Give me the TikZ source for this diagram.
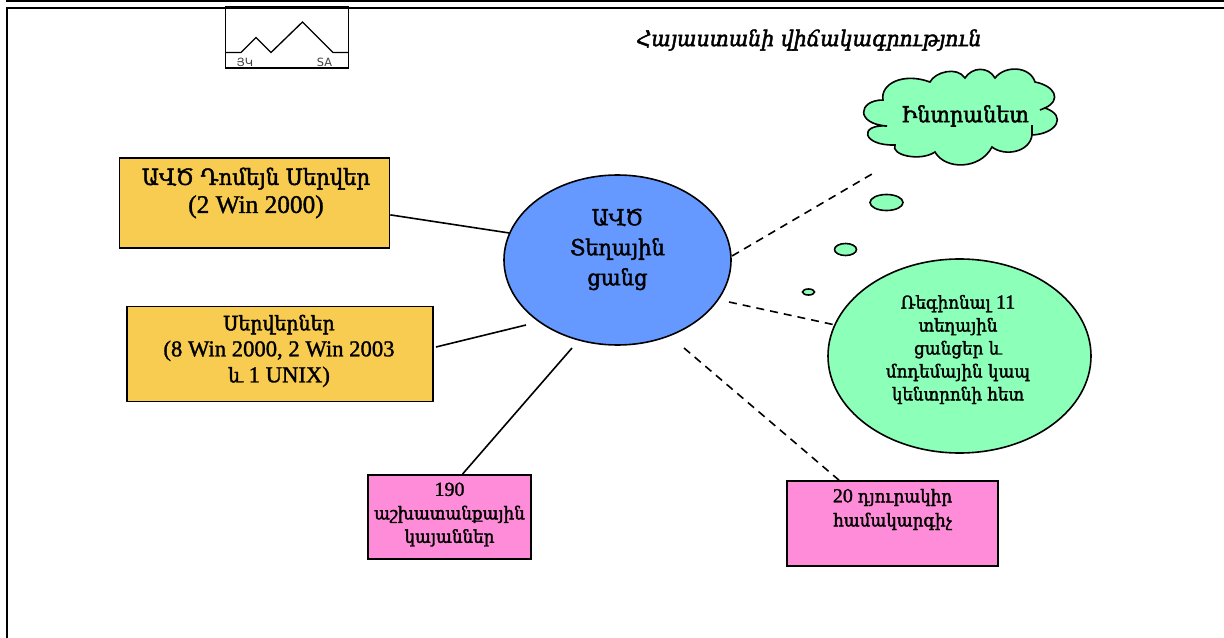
\documentclass[tikz,border=0pt]{standalone}
\usepackage{fontspec}
\setmainfont{Liberation Serif}[FakeBold=1.3]
\newfontfamily\arm{DejaVu Serif}[Scale=0.88,FakeStretch=0.95,FakeBold=2]
\newfontfamily\armsans{DejaVu Sans}
\definecolor{boxgold}{HTML}{F7CC50}
\definecolor{boxpink}{HTML}{FF8CD9}
\definecolor{blob}{HTML}{8CFFB8}
\definecolor{hub}{HTML}{6699FF}
\usetikzlibrary{shapes.geometric}
\tikzset{
  x=0.75pt,y=-0.75pt,
  rectbox/.style={draw=black,line width=1.25pt,rectangle,inner sep=0pt},
  oval/.style={draw=black,line width=1.2pt,ellipse,inner sep=0pt},
  link/.style={line width=1.2pt,black},
  dlink/.style={line width=1.2pt,black,dash pattern=on 6pt off 4.5pt},
  frameline/.style={line width=1.6pt,black},
  txt/.style={inner sep=0pt,align=center}
}
\begin{document}
\begin{tikzpicture}
\useasboundingbox (0,0) rectangle (1224,638);
% frame
\coordinate (ftl) at (6,1); \coordinate (ftr) at (1224,1);
\coordinate (gtl) at (7,8); \coordinate (gtr) at (1224,8); \coordinate (gbl) at (7,638);
\draw[frameline] (ftl) -- (ftr);
\draw[frameline] (gtr) -- (gtl) -- (gbl);
% logo
\node[draw=black,line width=1pt,minimum width=123.5*0.75pt,minimum height=61*0.75pt,inner sep=0pt] (logo) at (287,37.5) {};
\draw[line width=1pt] (225.5,52.5) -- (241,52.5) -- (256,37.5) -- (271,52.5) -- (302.5,22) -- (333,52.5) -- (348.5,52.5);
\node[txt,font=\armsans\fontsize{8.5pt}{9pt}\selectfont,text=black!75] (lhy) at (245,62) {ՅԿ};
\node[txt,font=\armsans\fontsize{8.5pt}{9pt}\selectfont,text=black!75] (lsa) at (324.5,62) {SA};
% title
\node[txt,font=\arm\itshape\fontsize{18.4pt}{22pt}\selectfont] (title) at (809,40) {Հայաստանի վիճակագրություն};
% hub
\node[oval,fill=hub,minimum width=227*0.75pt,minimum height=170*0.75pt] (hubn) at (617.5,260) {};
\node[txt,font=\arm\fontsize{18.8pt}{22.5pt}\selectfont] (hubt) at (617.5,249.5) {ԱՎԾ\\Տեղային\\ցանց};
% boxes
\node[rectbox,fill=boxgold,minimum width=270*0.75pt,minimum height=89.5*0.75pt] (dom) at (254.5,203) {};
\node[txt,font=\fontsize{19pt}{21pt}\selectfont] (domt) at (256,193) {\arm ԱՎԾ Դոմեյն Սերվեր\\(2 Win 2000)};
\node[rectbox,fill=boxgold,minimum width=306*0.75pt,minimum height=95*0.75pt] (srv) at (280,354) {};
\node[txt,font=\fontsize{17pt}{19.5pt}\selectfont] (srvt) at (279,351) {\arm Սերվերներ\\(8 Win 2000, 2 Win 2003\\{\arm և} 1 UNIX)};
\node[rectbox,fill=boxpink,minimum width=163*0.75pt,minimum height=84.5*0.75pt] (wks) at (449.5,517) {};
\node[txt,font=\fontsize{15pt}{17.6pt}\selectfont] (wkst) at (449.5,514.5) {190\\\arm աշխատանքային\\\arm կայաններ};
\node[rectbox,fill=boxpink,minimum width=211*0.75pt,minimum height=85*0.75pt] (lap) at (892.5,523.5) {};
\node[txt,font=\fontsize{15pt}{18pt}\selectfont] (lapt) at (892.5,509.5) {20 {\arm դյուրակիր}\\\arm համակարգիչ};
% region
\node[oval,fill=blob,minimum width=263*0.75pt,minimum height=194*0.75pt] (reg) at (959.5,356) {};
\node[txt,font=\fontsize{15pt}{17.2pt}\selectfont] (regt) at (958,349.5) {\arm Ռեգիոնալ {\rmfamily 11}\\\arm տեղային\\\arm ցանցեր և\\\arm մոդեմային կապ\\\arm կենտրոնի հետ};
% small bubbles
\node[oval,fill=blob,minimum width=33*0.75pt,minimum height=16*0.75pt] (b1) at (886.5,202.5) {};
\node[oval,fill=blob,minimum width=22*0.75pt,minimum height=12*0.75pt] (b2) at (845.5,249.5) {};
\node[oval,fill=blob,minimum width=12*0.75pt,minimum height=6*0.75pt] (b3) at (808.5,292) {};
% cloud
\draw[line width=1.2pt,fill=blob] (883,100)
  .. controls (880,84) and (903,72) .. (930,82)
  .. controls (935,72) and (957,66) .. (965,78)
  .. controls (972,67) and (988,66) .. (995,78)
  .. controls (1005,65) and (1030,66) .. (1035,82)
  .. controls (1055,86) and (1062,100) .. (1045,108)
  .. controls (1068,116) and (1056,134) .. (1032,135)
  .. controls (1030,152) and (1005,157) .. (992,147)
  .. controls (980,170) and (945,170) .. (935,152)
  .. controls (920,162) and (890,155) .. (895,145)
  .. controls (862,146) and (858,124) .. (887,126)
  .. controls (855,124) and (858,100) .. (883,100) -- cycle;
\draw[line width=1.2pt] (1045,108) -- (1040,110);
\draw[line width=1.2pt] (1032,135) -- (1032,125);
\node[txt,font=\arm\fontsize{18.7pt}{22pt}\selectfont] (cloudt) at (965,116) {Ինտրանետ};
% connectors
\coordinate (srvend) at (436,347); \coordinate (hubs) at (526,325);
\coordinate (hubw) at (572,348);
\coordinate (hubd1) at (732,256); \coordinate (clouds) at (872,174);
\coordinate (hubd2) at (729,302);
\coordinate (hubd3) at (684,348);
\draw[link] (dom.-5) -- (hubn.166);
\draw[link] (srvend) -- (hubs);
\draw[link] (hubw) -- (wks.73.4);
\draw[dlink] (hubd1) -- (clouds);
\draw[dlink] (hubd2) -- (reg.166);
\draw[dlink] (hubd3) -- (lap.141);
\end{tikzpicture}
\end{document}
